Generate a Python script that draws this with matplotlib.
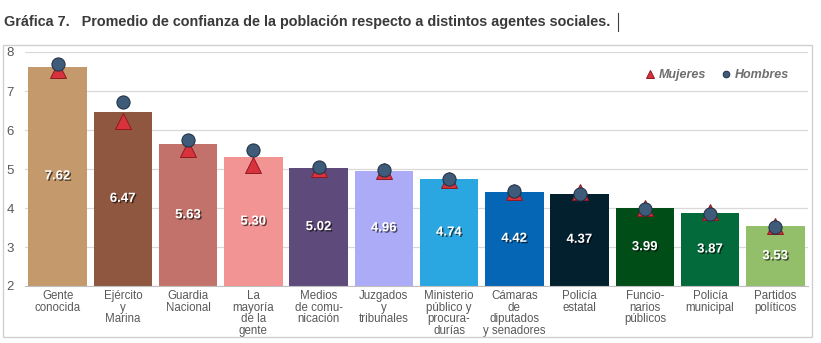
import matplotlib.pyplot as plt
import matplotlib.patheffects as pe
from matplotlib.patches import Rectangle
from matplotlib.lines import Line2D
import numpy as np

# agentes sociales y promedios de confianza
agentes = ['Gente\nconocida', 'Ejército\ny\nMarina', 'Guardia\nNacional',
           'La\nmayoría\nde la\ngente', 'Medios\nde comu-\nnicación',
           'Juzgados\ny\ntribunales', 'Ministerio\npúblico y\nprocura-\ndurías',
           'Cámaras\nde\ndiputados\ny senadores', 'Policía\nestatal',
           'Funcio-\nnarios\npúblicos', 'Policía\nmunicipal', 'Partidos\npolíticos']
promedio = [7.62, 6.47, 5.63, 5.30, 5.02, 4.96, 4.74, 4.42, 4.37, 3.99, 3.87, 3.53]
mujeres = [7.55, 6.22, 5.52, 5.09, 5.00, 4.94, 4.73, 4.41, 4.40, 4.01, 3.90, 3.54]
hombres = [7.69, 6.73, 5.74, 5.50, 5.04, 4.98, 4.75, 4.44, 4.35, 3.97, 3.85, 3.52]
colores = ['#C49A6C', '#8F573F', '#C2726A', '#F29493', '#5F4A7C', '#ABABF7',
           '#2AA7E0', '#0466B4', '#03202F', '#014D17', '#036B3B', '#93BF6B']

fuente = ['Liberation Sans', 'DejaVu Sans']
gris = '#595959'

fig = plt.figure(figsize=(8.21, 3.43), dpi=100)
ax = fig.add_axes([25 / 821, 1 - 286 / 343, 783 / 821, 234 / 343])

x = np.arange(len(agentes))
ax.bar(x, np.array(promedio) - 2, bottom=2, width=0.9, color=colores, zorder=2)

for xi, v in zip(x, promedio):
    ax.text(xi, (v + 2) / 2, f'{v:.2f}', ha='center', va='center', color='white',
            fontsize=9.5, fontweight='bold', family=fuente, zorder=5,
            path_effects=[pe.SimplePatchShadow(offset=(1, -1), shadow_rgbFace='black', alpha=0.6),
                          pe.Normal()])

ax.plot(x, mujeres, linestyle='none', marker='^', markersize=11.5,
        markerfacecolor='#D8323C', markeredgecolor='#8E1A22', markeredgewidth=0.7,
        zorder=3, label='Mujeres')
ax.plot(x, hombres, linestyle='none', marker='o', markersize=9.5,
        markerfacecolor='#3F5B7A', markeredgecolor='#1E2E40', markeredgewidth=0.7,
        zorder=4, label='Hombres')

ax.set_xlim(-0.5, len(agentes) - 0.5)
ax.set_ylim(2, 8)
ax.set_yticks(range(2, 9))
ax.grid(axis='y', color='#D9D9D9', linewidth=0.9, zorder=0)
for s in ['top', 'right', 'left']:
    ax.spines[s].set_visible(False)
ax.spines['bottom'].set_color('#BFBFBF')
ax.set_xticks(x)
ax.set_xticklabels(agentes, family=fuente, fontsize=8.3, color=gris, linespacing=0.95)
for lab in ax.get_yticklabels():
    lab.set_family(fuente)
    lab.set_fontsize(9.5)
    lab.set_color(gris)
ax.tick_params(axis='x', length=0, pad=3)
ax.tick_params(axis='y', length=0, pad=8)

leg = ax.legend(loc='upper right', bbox_to_anchor=(0.99, 0.975), frameon=False,
                ncol=2, markerscale=0.5, handlelength=0.8, handletextpad=0.3,
                columnspacing=1.2,
                prop={'family': fuente, 'style': 'italic', 'weight': 'bold', 'size': 9})
for t in leg.get_texts():
    t.set_color('#6E6E6E')

# marco del gráfico
fig.add_artist(Rectangle((3 / 821, 1 - 337 / 343), 809 / 821, 292 / 343,
                         transform=fig.transFigure, fill=False,
                         edgecolor='#D0D0D0', linewidth=1))

fig.text(4 / 821, 1 - 22 / 343,
         'Gráfica 7.   Promedio de confianza de la población respecto a distintos agentes sociales.',
         fontsize=10.4, fontweight='bold', color='#3A3A3A', va='center', family=fuente)
fig.add_artist(Line2D([618 / 821, 618 / 821], [1 - 31 / 343, 1 - 13 / 343],
                      transform=fig.transFigure, color='#404040', linewidth=0.8))

fig.savefig('out.png', dpi=100, facecolor='white')
